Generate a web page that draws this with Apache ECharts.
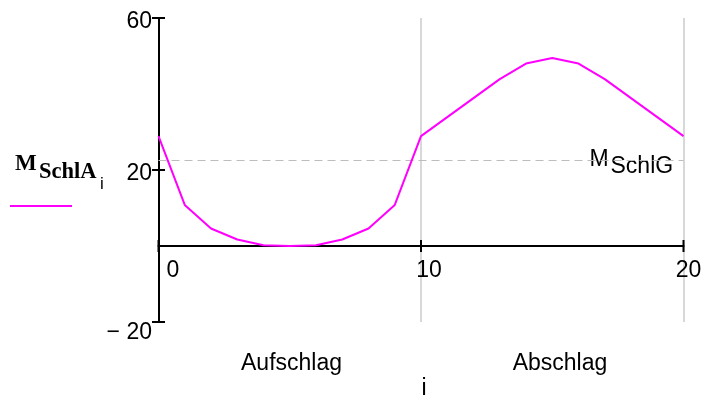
<!DOCTYPE html>
<html>
<head>
<meta charset="utf-8">
<script src="https://cdn.jsdelivr.net/npm/echarts@6/dist/echarts.min.js"></script>
<style>
  html, body { margin: 0; padding: 0; background: #fff; }
  #chart { width: 702px; height: 398px; }
</style>
</head>
<body>
<div id="chart"></div>
<script>
// Stroke index i and the bending moment M_SchlA(i) over one flap cycle
const stepIndex = [0, 1, 2, 3, 4, 5, 6, 7, 8, 9, 10, 11, 12, 13, 14, 15, 16, 17, 18, 19, 20];
const momentSchlA = [28.9, 10.8, 4.6, 1.7, 0.2, 0.0, 0.2, 1.7, 4.6, 10.8, 28.9,
                     33.9, 38.9, 43.9, 48.0, 49.5, 48.0, 43.9, 38.9, 33.9, 28.9];
// Limit moment M_SchlG
const momentSchlG = 22.6;
// Axis ticks and their labels
const xTickValues = [0, 10, 20];
const yTickValues = [-20, 20, 60];
// Phase captions under the plot
const phaseNames = ['Aufschlag', 'Abschlag'];

const SANS = '"Liberation Sans", Arial, sans-serif';
const SERIF = '"Liberation Serif", "Times New Roman", serif';
const FS = 23;
const LABEL_FONT = FS + 'px ' + SANS;

// label nudges (pixels) in the Mathcad style: numbers sit beside their tick
const xLabelNudge = { 0: 14.5, 10: 8, 20: 5 };
const yLabelNudge = { '-20': 10.5, 20: 3.5, 60: 4 };

const fmtY = v => (v < 0 ? '\u2212 ' + Math.abs(v) : String(v));

const chart = echarts.init(document.getElementById('chart'));

chart.setOption({
  animation: false,
  grid: { left: 158.5, right: 18.5, top: 18, bottom: 76, containLabel: false },
  xAxis: {
    type: 'value', min: 0, max: 20, interval: 10,
    axisLine: { onZero: true, lineStyle: { color: '#000', width: 2 } },
    axisTick: { show: false },
    axisLabel: { show: false },
    splitLine: { show: true, lineStyle: { color: '#d8d8d8', width: 2 } }
  },
  yAxis: {
    type: 'value', min: -20, max: 60, interval: 40,
    axisLine: { onZero: true, lineStyle: { color: '#000', width: 2 } },
    axisTick: { show: false },
    axisLabel: { show: false },
    splitLine: { show: false }
  },
  series: [
    {
      name: 'M_SchlA',
      type: 'line',
      data: stepIndex.map((i, k) => [i, momentSchlA[k]]),
      showSymbol: false,
      lineStyle: { color: '#ff00ff', width: 2 },
      z: 5,
      markLine: {
        silent: true,
        symbol: 'none',
        label: { show: false },
        lineStyle: { color: '#bdbdbd', width: 1, type: [8, 5] },
        data: [{ yAxis: momentSchlG }]
      }
    },
    {
      // x ticks crossing the zero line, with their numbers
      type: 'custom',
      data: xTickValues.map(v => [v, 0]),
      z: 4,
      renderItem: (params, api) => {
        const v = api.value(0);
        const p = api.coord([v, api.value(1)]);
        return {
          type: 'group',
          children: [
            { type: 'line', shape: { x1: p[0], y1: p[1] - 6, x2: p[0], y2: p[1] + 6 },
              style: { stroke: '#000', lineWidth: 2 } },
            { type: 'text', style: { text: String(v), x: p[0] + xLabelNudge[v], y: p[1] + 24.5,
              font: LABEL_FONT, fill: '#000', align: 'center', verticalAlign: 'middle' } }
          ]
        };
      }
    },
    {
      // y ticks crossing the left axis, with their numbers
      type: 'custom',
      data: yTickValues.map(v => [0, v]),
      z: 4,
      renderItem: (params, api) => {
        const v = api.value(1);
        const p = api.coord([api.value(0), v]);
        return {
          type: 'group',
          children: [
            { type: 'line', shape: { x1: p[0] - 6.5, y1: p[1], x2: p[0] + 6.5, y2: p[1] },
              style: { stroke: '#000', lineWidth: 2 } },
            { type: 'text', style: { text: fmtY(v), x: p[0] - 6.5, y: p[1] + yLabelNudge[v],
              font: LABEL_FONT, fill: '#000', align: 'right', verticalAlign: 'middle' } }
          ]
        };
      }
    }
  ]
});

// Captions placed against the axis scale
const gPt = chart.convertToPixel({ gridIndex: 0 }, [20, momentSchlG]);
const left0 = chart.convertToPixel({ gridIndex: 0 }, [0, 0])[0];
const right20 = gPt[0];
const midX = (left0 + right20) / 2;

chart.setOption({
  graphic: [
    // legend entry
    { type: 'text', x: 15, y: 164.5, style: { text: 'M', font: 'bold 23px ' + SERIF, fill: '#000', verticalAlign: 'middle' } },
    { type: 'text', x: 39, y: 172, style: { text: 'SchlA', font: 'bold 22.5px ' + SERIF, fill: '#000', verticalAlign: 'middle' } },
    { type: 'text', x: 100, y: 184.5, style: { text: 'i', font: '17px ' + SANS, fill: '#000', verticalAlign: 'middle' } },
    { type: 'line', shape: { x1: 10, y1: 206, x2: 72, y2: 206 }, style: { stroke: '#ff00ff', lineWidth: 2 } },
    // limit line caption
    { type: 'text', x: right20 - 94, y: gPt[1], style: { text: 'M', font: LABEL_FONT, fill: '#000', verticalAlign: 'middle' } },
    { type: 'text', x: right20 - 73, y: gPt[1] + 7, style: { text: 'SchlG', font: '23px ' + SANS, fill: '#000', verticalAlign: 'middle' } },
    // phase captions and axis name
    { type: 'text', x: 291.5, y: 364, style: { text: phaseNames[0], font: LABEL_FONT, fill: '#000', align: 'center', verticalAlign: 'middle' } },
    { type: 'text', x: 560, y: 364, style: { text: phaseNames[1], font: LABEL_FONT, fill: '#000', align: 'center', verticalAlign: 'middle' } },
    { type: 'text', x: midX + 3, y: 389, style: { text: 'i', font: LABEL_FONT, fill: '#000', align: 'center', verticalAlign: 'middle' } }
  ]
});
</script>
</body>
</html>
